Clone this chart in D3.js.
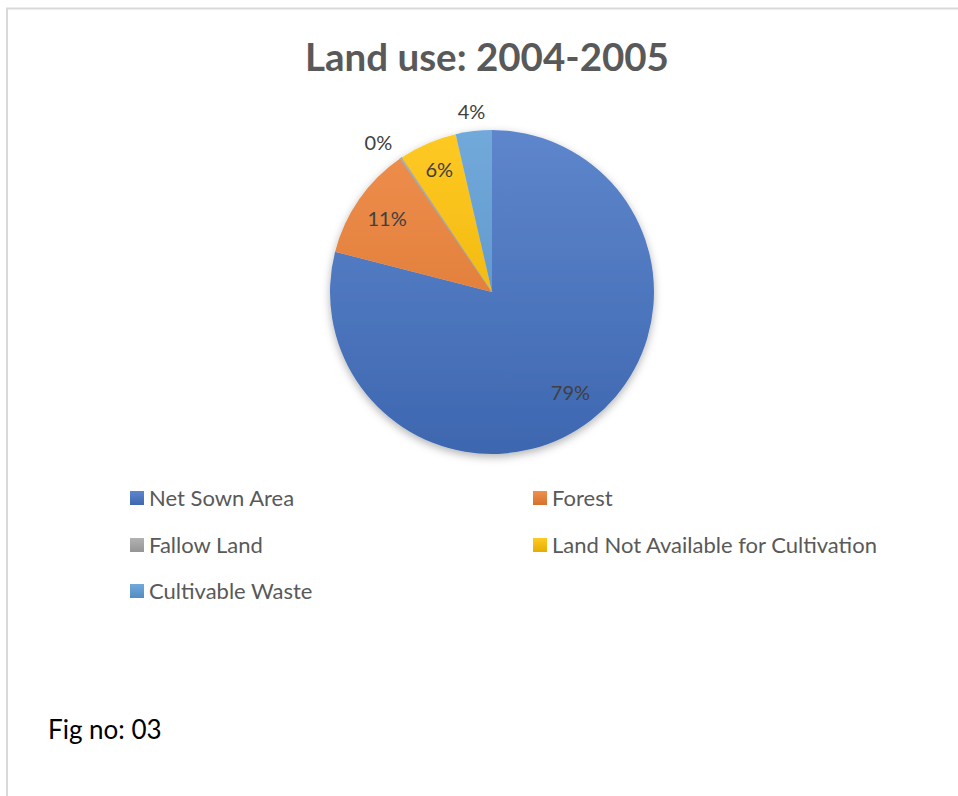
<!DOCTYPE html>
<html lang="en">
<head>
<meta charset="UTF-8">
<title>Land use: 2004-2005</title>
<script src="https://d3js.org/d3.v7.min.js"></script>
<style>
  body { margin: 0; background: #fff; }
  svg { display: block; }
  text { font-family: Lato, "Open Sans", sans-serif; }
</style>
</head>
<body>
<div id="chart"></div>
<script>
// data (share of total area, %)
var categories = ["Net Sown Area", "Forest", "Fallow Land", "Land Not Available for Cultivation", "Cultivable Waste"];
var shares = [79.0, 11.4, 0.2, 5.8, 3.6];
var labels = ["79%", "11%", "0%", "6%", "4%"];
var colors = ["#4472C4", "#ED7D31", "#A5A5A5", "#FFC000", "#5B9BD5"];

var W = 958, H = 796;
var cx = 492, cy = 292, r = 162;

var svg = d3.select("#chart").append("svg")
  .attr("width", W).attr("height", H);

var defs = svg.append("defs");

function lighter(c) { return d3.interpolateRgb(c, "#fff")(0.14); }
function darker(c) { return d3.interpolateRgb(c, "#000")(0.1); }

// office-ish gradient on every slice and legend key
colors.forEach(function(c, i) {
  var g = defs.append("linearGradient")
    .attr("id", "grad" + i)
    .attr("gradientUnits", "userSpaceOnUse")
    .attr("x1", 0).attr("y1", -r).attr("x2", 0).attr("y2", r);
  g.append("stop").attr("offset", "0%").attr("stop-color", lighter(c));
  g.append("stop").attr("offset", "100%").attr("stop-color", darker(c));
  var lg = defs.append("linearGradient").attr("id", "lg" + i)
    .attr("x1", 0).attr("y1", 0).attr("x2", 0).attr("y2", 1);
  lg.append("stop").attr("offset", "0%").attr("stop-color", lighter(c));
  lg.append("stop").attr("offset", "100%").attr("stop-color", darker(c));
});

var shadow = defs.append("filter").attr("id", "shadow")
  .attr("x", "-20%").attr("y", "-20%").attr("width", "140%").attr("height", "140%");
shadow.append("feDropShadow")
  .attr("dx", 0).attr("dy", 3).attr("stdDeviation", 4)
  .attr("flood-color", "#000").attr("flood-opacity", 0.3);

// frame (top and left edges like the cropped screenshot)
svg.append("path")
  .attr("d", "M7," + H + " V8.5 H" + W)
  .attr("fill", "none").attr("stroke", "#d9d9d9").attr("stroke-width", 2);

// title
svg.append("text")
  .attr("x", 487).attr("y", 71)
  .attr("text-anchor", "middle")
  .attr("font-size", 38.5).attr("font-weight", "bold")
  .attr("fill", "#595959")
  .text("Land use: 2004-2005");

var pie = d3.pie().sort(null).value(function(d) { return d; });
var arcs = pie(shares);
var arc = d3.arc().innerRadius(0).outerRadius(r);

var g = svg.append("g").attr("transform", "translate(" + cx + "," + cy + ")");

var slices = g.append("g").attr("filter", "url(#shadow)");
slices.selectAll("path")
  .data(arcs)
  .enter().append("path")
  .attr("d", arc)
  .attr("fill", function(d, i) { return "url(#grad" + i + ")"; })
  .attr("stroke", function(d, i) { return i == 2 ? "#A5A5A5" : "none"; })
  .attr("stroke-width", 1);

// data labels: inside for big slices, outside for the small ones
var labelR = [0.79, 0.79, 1.16, 0.82, 1.12];
g.selectAll("text.lbl")
  .data(arcs)
  .enter().append("text")
  .attr("class", "lbl")
  .attr("transform", function(d, i) {
    var p = d3.arc().innerRadius(r * labelR[i]).outerRadius(r * labelR[i]).centroid(d);
    if (i == 2) p = [p[0] - 8, p[1] + 6];
    return "translate(" + p + ")";
  })
  .attr("text-anchor", "middle")
  .attr("dy", "0.35em")
  .attr("font-size", 20)
  .attr("fill", "#404040")
  .text(function(d, i) { return labels[i]; });

// legend, two columns
var legX = [130, 533], legY = [498, 545, 591];
var leg = svg.selectAll("g.leg")
  .data(categories)
  .enter().append("g")
  .attr("class", "leg")
  .attr("transform", function(d, i) {
    return "translate(" + legX[i % 2] + "," + legY[Math.floor(i / 2)] + ")";
  });
leg.append("rect")
  .attr("x", 0).attr("y", -7).attr("width", 14).attr("height", 14)
  .attr("fill", function(d, i) { return "url(#lg" + i + ")"; });
leg.append("text")
  .attr("x", 19).attr("dy", "0.36em")
  .attr("font-size", 22)
  .attr("fill", "#595959")
  .text(function(d) { return d; });

// caption
svg.append("text")
  .attr("x", 48).attr("y", 739)
  .attr("font-size", 26)
  .attr("fill", "#000")
  .text("Fig no: 03");
</script>
</body>
</html>
